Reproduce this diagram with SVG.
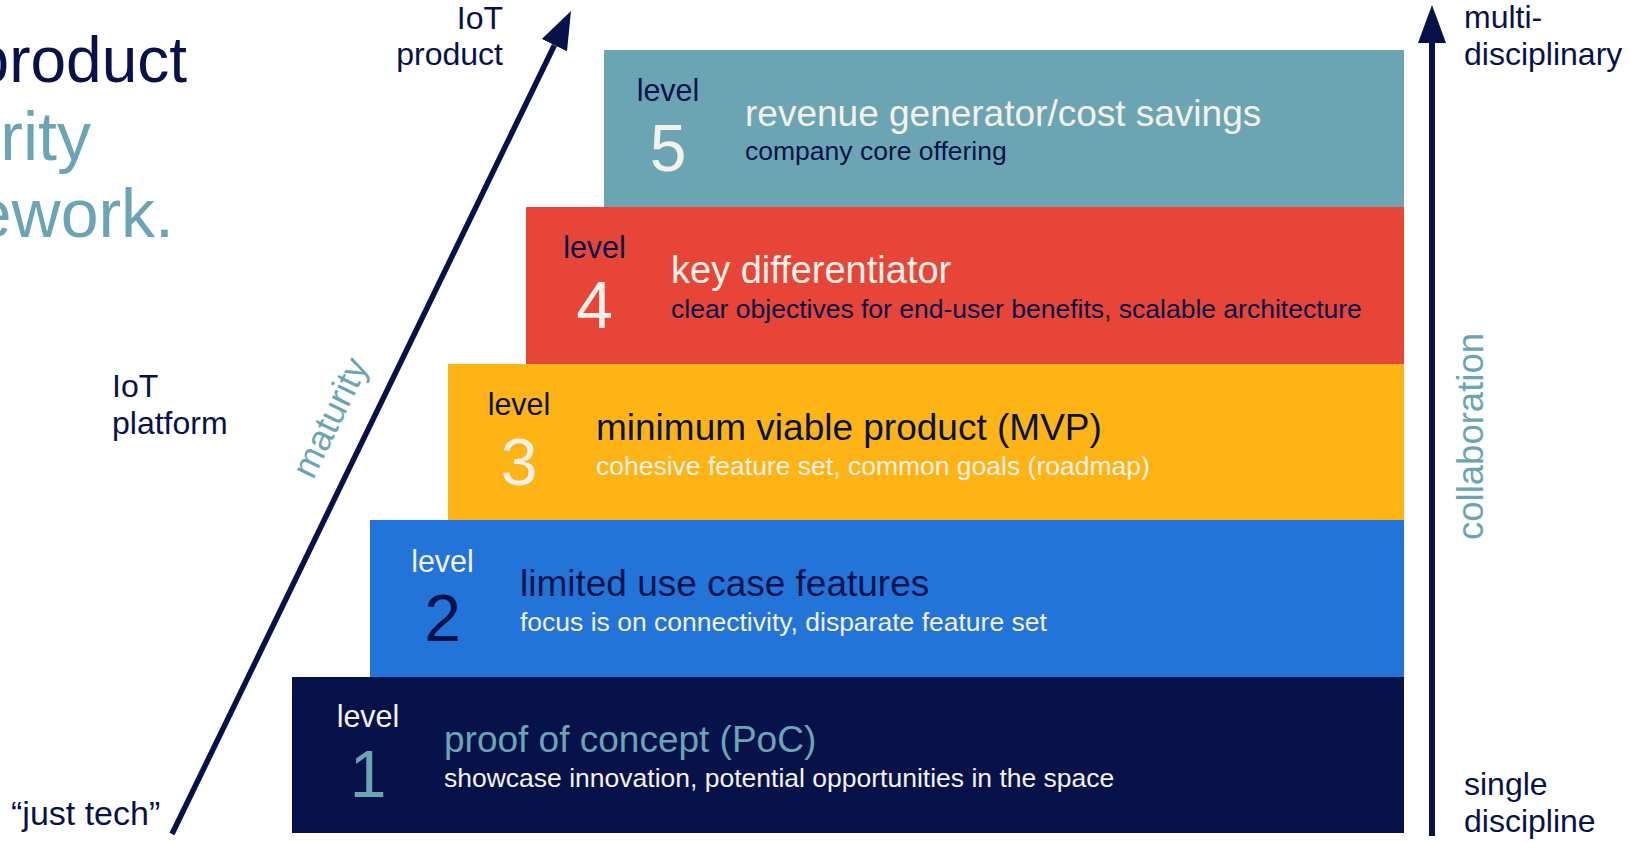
<svg xmlns="http://www.w3.org/2000/svg" width="1631" height="842" viewBox="0 0 1631 842">
<style>
text{font-family:'Liberation Sans',Arial,sans-serif}
.navy{fill:#07124b}
.teal{fill:#6ba5b5}
.wht{fill:#f4f1ea}
.lvl{font-size:30.5px;text-anchor:middle}
.dig{font-size:66px;text-anchor:middle}
.ttl{font-size:37px}
.sub{font-size:26.5px}
.side{font-size:32px}
.big{font-size:68px;text-anchor:end}
.conn{stroke:#07124b;fill:none}
</style>
<defs>
<marker id="ah" markerUnits="userSpaceOnUse" markerWidth="40" markerHeight="30" refX="0" refY="14" orient="auto" viewBox="0 0 40 28">
<path d="M0,0 L38,14 L0,28 Z" fill="#07124b"/>
</marker>
</defs>
<rect width="1631" height="842" fill="#ffffff"/>

<g id="title">
<text class="big navy" x="187" y="82" style="font-size:64px">product</text>
<text class="big teal" x="91" y="160">rity</text>
<text class="big teal" x="174" y="237">ework.</text>
</g>

<g id="level5">
<rect x="604" y="50" width="800" height="157" fill="#6ba5b3"/>
<text class="lvl navy" x="668" y="101">level</text>
<text class="dig wht" x="668" y="171">5</text>
<text class="ttl wht" x="745" y="126">revenue generator/cost savings</text>
<text class="sub navy" x="745" y="160">company core offering</text>
</g>

<g id="level4">
<rect x="526" y="207" width="878" height="157" fill="#e64537"/>
<text class="lvl navy" x="594.5" y="258">level</text>
<text class="dig wht" x="594.5" y="328">4</text>
<text class="ttl wht" x="671" y="283" style="font-size:38px">key differentiator</text>
<text class="sub navy" x="671" y="318">clear objectives for end-user benefits, scalable architecture</text>
</g>

<g id="level3">
<rect x="448" y="364" width="956" height="156" fill="#fdb414"/>
<text class="lvl navy" x="519" y="415">level</text>
<text class="dig wht" x="519" y="485">3</text>
<text class="ttl navy" x="596" y="440">minimum viable product (MVP)</text>
<text class="sub wht" x="596" y="475">cohesive feature set, common goals (roadmap)</text>
</g>

<g id="level2">
<rect x="370" y="520" width="1034" height="157" fill="#2274d8"/>
<text class="lvl wht" x="442.5" y="572">level</text>
<text class="dig navy" x="442.5" y="641">2</text>
<text class="ttl navy" x="520" y="596">limited use case features</text>
<text class="sub wht" x="520" y="631">focus is on connectivity, disparate feature set</text>
</g>

<g id="level1">
<rect x="292" y="677" width="1112" height="156" fill="#07124b"/>
<text class="lvl wht" x="368" y="727">level</text>
<text class="dig teal" x="368" y="797">1</text>
<text class="ttl teal" x="444" y="752">proof of concept (PoC)</text>
<text class="sub wht" x="444" y="787">showcase innovation, potential opportunities in the space</text>
</g>

<g id="connectors">
<line class="conn" x1="172" y1="834" x2="554.4" y2="45.2" stroke-width="5.5" marker-end="url(#ah)"/>
<line class="conn" x1="1432" y1="836" x2="1432" y2="43" stroke-width="6" marker-end="url(#ah)"/>
</g>

<g id="labels">
<text class="side navy" x="503" y="29" text-anchor="end">IoT</text>
<text class="side navy" x="503" y="65" text-anchor="end">product</text>
<text class="side navy" x="112" y="397">IoT</text>
<text class="side navy" x="112" y="434">platform</text>
<text class="side navy" x="11" y="825" style="font-size:34px">“just tech”</text>
<text class="side navy" x="1464" y="28">multi-</text>
<text class="side navy" x="1464" y="65">disciplinary</text>
<text class="side navy" x="1464" y="795">single</text>
<text class="side navy" x="1464" y="832">discipline</text>
<text class="teal" font-size="36" text-anchor="middle" transform="translate(341 423) rotate(-64.1)">maturity</text>
<text class="teal" font-size="36.5" text-anchor="middle" transform="translate(1483 436.5) rotate(-90)">collaboration</text>
</g>
</svg>
